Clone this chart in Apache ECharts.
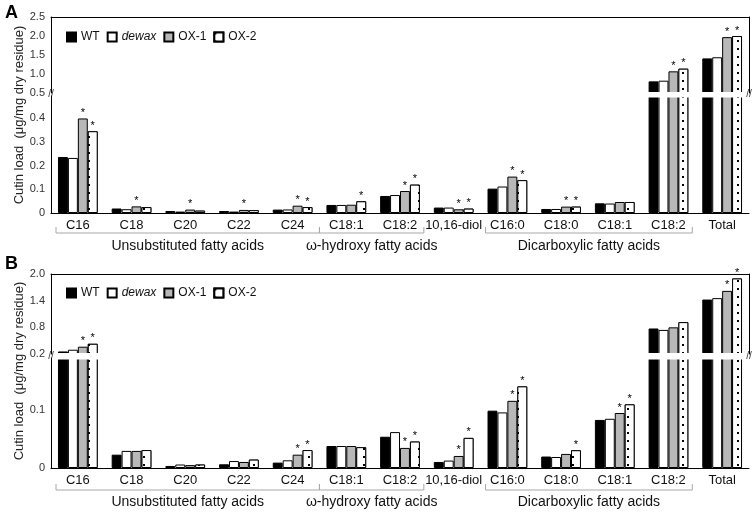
<!DOCTYPE html>
<html><head><meta charset="utf-8">
<script src="https://cdn.jsdelivr.net/npm/echarts@6/dist/echarts.min.js"></script>
<style>html,body{margin:0;padding:0;background:#fff}#c{width:756px;height:513px}</style>
</head><body><div id="c"></div>
<script>
// ---------- data ----------
const categories = ['C16','C18','C20','C22','C24','C18:1','C18:2','10,16-diol','C16:0','C18:0','C18:1','C18:2','Total'];
const seriesNames = ['WT','dewax','OX-1','OX-2'];

// Panel A (µg/mg dry residue)
const wtA    = [0.237, 0.019, 0.0085, 0.0085, 0.0144, 0.034, 0.072, 0.023, 0.103, 0.017, 0.041, 0.806, 1.41];
const dewaxA = [0.233, 0.016, 0.006, 0.006, 0.015, 0.034, 0.076, 0.023, 0.112, 0.017, 0.040, 0.824, 1.44];
const ox1A   = [0.400, 0.028, 0.0144, 0.013, 0.031, 0.035, 0.093, 0.0157, 0.154, 0.027, 0.0466, 1.07, 1.97];
const ox2A   = [0.346, 0.025, 0.010, 0.012, 0.025, 0.0496, 0.120, 0.0186, 0.139, 0.027, 0.0466, 1.14, 2.00];
const sigOx1A = [1,1,1,1,1,0,1,1,1,1,0,1,1];
const sigOx2A = [1,0,0,0,1,1,1,1,1,1,0,1,1];

// Panel B
const wtB    = [0.257, 0.023, 0.0035, 0.0064, 0.0093, 0.038, 0.054, 0.0104, 0.099, 0.0198, 0.083, 0.774, 1.425];
const dewaxB = [0.296, 0.0295, 0.006, 0.012, 0.0133, 0.038, 0.062, 0.0128, 0.096, 0.019, 0.085, 0.742, 1.457];
const ox1B   = [0.364, 0.0295, 0.005, 0.0104, 0.023, 0.038, 0.0347, 0.0208, 0.116, 0.0243, 0.095, 0.80, 1.62];
const ox2B   = [0.430, 0.031, 0.006, 0.0145, 0.031, 0.036, 0.0457, 0.052, 0.141, 0.0307, 0.110, 0.917, 1.90];
const sigOx1B = [1,0,0,0,1,0,1,1,1,0,1,0,1];
const sigOx2B = [1,0,0,0,1,0,1,1,1,1,1,0,1];

// axis ticks & break ranges
const ticksALow  = [0, 0.1, 0.2, 0.3, 0.4];
const ticksAHigh = [0.5, 1.0, 1.5, 2.0, 2.5];
const ticksBLow  = [0, 0.1];
const ticksBHigh = [0.2, 0.8, 1.4, 2.0];
const rangeALow = [0, 0.495], rangeAHigh = [0.5, 2.5];
const rangeBLow = [0, 0.19], rangeBHigh = [0.2, 2.0];

// category groups
const groupNames = ['Unsubstituted fatty acids', 'ω-hydroxy fatty acids', 'Dicarboxylic fatty acids'];
const groupFrom = [0, 5, 8];
const groupTo   = [4, 6, 11];

const yTitle = 'Cutin load  (μg/mg dry residue)';
const FONT = '"Liberation Sans", Arial, sans-serif';

// ---------- build ----------
const styles = [
  {color:'#000', borderColor:'#000', borderWidth:1},
  {color:'#fff', borderColor:'#000', borderWidth:1},
  {color:'#b8b8b8', borderColor:'#000', borderWidth:1},
  {color:'#fff', borderColor:'#000', borderWidth:1,
   decal:{symbol:'rect', symbolSize:1, dashArrayX:[2,9], dashArrayY:[2,6], color:'#000', backgroundColor:'#fff'}}
];

const panels = [
  {vals:[wtA,dewaxA,ox1A,ox2A], sig:[null,null,sigOx1A,sigOx2A], low:rangeALow, high:rangeAHigh,
   tLow:ticksALow, tHigh:ticksAHigh, upper:{top:17,height:76}, lower:{top:96,height:117}, bracketOff:20, labelOff:33},
  {vals:[wtB,dewaxB,ox1B,ox2B], sig:[null,null,sigOx1B,sigOx2B], low:rangeBLow, high:rangeBHigh,
   tLow:ticksBLow, tHigh:ticksBHigh, upper:{top:274,height:80}, lower:{top:358,height:110}, bracketOff:22, labelOff:34}
];

const grid = [], xAxis = [], yAxis = [], series = [];
const fmt = v => v === 0 ? '0' : v.toFixed(1);

panels.forEach((p) => {
  ['upper','lower'].forEach((seg) => {
    const g = grid.length;
    const isLow = seg === 'lower';
    const range = isLow ? p.low : p.high;
    grid.push({left:51, right:7, top:p[seg].top, height:p[seg].height});
    xAxis.push({
      type:'category', gridIndex:g, data:categories, position: isLow ? 'bottom' : 'top',
      axisLine:{show:true, lineStyle:{color:'#000', width:1}},
      axisTick:{show:false},
      axisLabel: isLow ? {show:true, fontSize:13, color:'#111', margin:6, interval:0, fontFamily:FONT} : {show:false}
    });
    yAxis.push({
      type:'value', gridIndex:g, min:range[0], max:range[1], position:'left',
      axisLine:{show:true, lineStyle:{color:'#000', width:1}},
      axisTick:{show:false}, splitLine:{show:false},
      axisLabel:{customValues: isLow ? p.tLow : p.tHigh, formatter:fmt, fontSize:11, color:'#333', margin:6, fontFamily:FONT},
      name: isLow ? '//' : '', nameLocation:'end', nameGap:-3,
      nameTextStyle:{fontSize:10, color:'#333', fontFamily:FONT}
    });
    yAxis.push({
      type:'value', gridIndex:g, min:range[0], max:range[1], position:'right',
      axisLine:{show:!isLow, lineStyle:{color:'#000', width:1}},
      axisTick:{show:false}, splitLine:{show:false}, axisLabel:{show:false},
      name: isLow ? '//' : '', nameLocation:'end', nameGap:-3,
      nameTextStyle:{fontSize:10, color:'#333', fontFamily:FONT}
    });
    const yi = yAxis.length - 2;
    p.vals.forEach((arr, s) => {
      series.push({
        type:'bar', name:seriesNames[s], xAxisIndex:g, yAxisIndex:yi, clip:true,
        barGap:'0%', barCategoryGap:'26%',
        itemStyle:styles[s],
        label:{show:false, position:'top', distance:0, formatter:'*', fontSize:11, color:'#000', fontFamily:FONT},
        data: arr.map((v, i) => {
          const sig = p.sig[s] && p.sig[s][i];
          const inSeg = isLow ? v <= range[1] : v > range[0];
          return {value:v, label:{show: !!(sig && inSeg)}};
        })
      });
    });
    if (isLow) {
      // group brackets and group names under the axis
      series.push({
        type:'custom', xAxisIndex:g, yAxisIndex:yi, silent:true, clip:false, z:1,
        data: groupFrom.map((f, i) => [f, groupTo[i]]),
        renderItem: (params, api) => {
          const i = params.dataIndex;
          const band = api.size([1, 0])[0];
          const a = api.coord([api.value(0), 0]);
          const b = api.coord([api.value(1), 0]);
          const adjPrev = i > 0 && groupTo[i-1] + 1 === groupFrom[i];
          const adjNext = i < groupFrom.length - 1 && groupTo[i] + 1 === groupFrom[i+1];
          const x1 = a[0] - band/2 + (adjPrev ? 0 : 5);
          const x2 = b[0] + band/2 - (adjNext ? 0 : 3);
          const yb = a[1] + p.bracketOff;
          return {type:'group', children:[
            {type:'polyline', shape:{points:[[x1,yb-6],[x1,yb],[x2,yb],[x2,yb-6]]},
             style:{stroke:'#a8a8a8', lineWidth:1, fill:null}},
            {type:'text', style:{text:groupNames[i], x:(x1+x2)/2, y:a[1]+p.labelOff, align:'center',
              verticalAlign:'middle', fontSize:14, fontFamily:FONT, fill:'#111'}}
          ]};
        }
      });
      // white gap of the axis break (hides the clipped bar edges)
      const gapPx = p.lower.top - (p.upper.top + p.upper.height);
      series.push({
        type:'custom', xAxisIndex:g, yAxisIndex:yi, silent:true, clip:false, z:10,
        data:[[0, range[1]]],
        renderItem: (params, api) => {
          const cs = params.coordSys;
          const top = api.coord([0, range[1]])[1];
          return {type:'rect', shape:{x:cs.x + 4, y:top - gapPx - 1, width:cs.width - 8, height:gapPx + 2.5},
                  style:{fill:'#fff'}};
        }
      });
    }
  });
});

const legendBase = {
  data:seriesNames, left:66, itemWidth:9, itemHeight:9, itemGap:7, padding:0, icon:'rect',
  selectedMode:false,
  formatter: n => n === 'dewax' ? '{i|dewax}' : n,
  textStyle:{fontSize:12, color:'#111', fontFamily:FONT, rich:{i:{fontStyle:'italic', fontSize:12, fontFamily:FONT, color:'#111'}}}
};

const option = {
  animation:false,
  backgroundColor:'#fff',
  textStyle:{fontFamily:FONT},
  grid, xAxis, yAxis, series,
  legend:[Object.assign({top:31}, legendBase), Object.assign({top:287}, legendBase)],
  graphic:[
    {type:'text', x:5, y:4, style:{text:'A', fontSize:18, fontWeight:'bold', fontFamily:FONT, fill:'#000'}},
    {type:'text', x:5, y:255, style:{text:'B', fontSize:18, fontWeight:'bold', fontFamily:FONT, fill:'#000'}},
    {type:'text', x:19, y:115, rotation:Math.PI/2, style:{text:yTitle, align:'center', verticalAlign:'middle', fontSize:13, fontFamily:FONT, fill:'#222'}},
    {type:'text', x:19, y:371, rotation:Math.PI/2, style:{text:yTitle, align:'center', verticalAlign:'middle', fontSize:13, fontFamily:FONT, fill:'#222'}}
  ]
};

const chart = echarts.init(document.getElementById('c'), null, {renderer:'canvas'});
chart.setOption(option);
</script>
</body></html>
